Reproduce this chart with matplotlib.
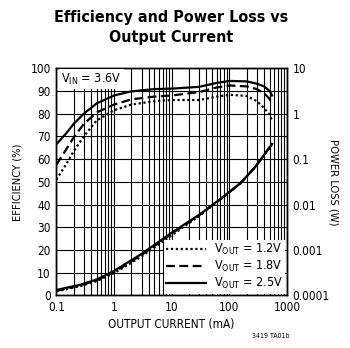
import matplotlib
matplotlib.use("Agg")
from matplotlib import pyplot as plt
from matplotlib.ticker import NullLocator
import numpy as np

plt.rcParams['font.family'] = ['DejaVu Sans']
plt.rcParams['font.stretch'] = 'condensed'
plt.rcParams['mathtext.default'] = 'regular'

# Efficiency vs output current (mA)
current = [0.1, 0.15, 0.2, 0.3, 0.5, 1, 2, 5, 10, 30, 60, 100, 200, 300, 400, 500, 550]
eff_12 = [51, 58, 63.5, 70, 77, 81.5, 84, 85.5, 86, 86, 87.5, 88.3, 87.8, 85.5, 82.5, 79.5, 77]
eff_18 = [57.5, 64.5, 69.5, 75.5, 80.5, 84, 86.3, 87.5, 88, 89.5, 91.5, 92.4, 92, 90.8, 89, 86.5, 84]
eff_25 = [66.5, 71.5, 75.5, 80, 84.5, 88, 89.8, 90.8, 91, 91.8, 93.5, 94.4, 94.2, 93.2, 92, 90, 88]

# Power loss (W)
loss_current = [0.1, 0.25, 0.5, 1, 3, 10, 30, 70, 155, 280, 400, 550]
loss_12 = [1.23e-4, 1.58e-4, 2.07e-4, 3.09e-4, 7.2e-4, 2.11e-3, 5.6e-3, 0.0129, 0.029, 0.066, 0.122, 0.212]
loss_18 = [1.26e-4, 1.64e-4, 2.16e-4, 3.27e-4, 7.76e-4, 2.29e-3, 5.8e-3, 0.0131, 0.0292, 0.0665, 0.123, 0.214]
loss_25 = [1.32e-4, 1.70e-4, 2.24e-4, 3.47e-4, 8.2e-4, 2.4e-3, 5.96e-3, 0.0133, 0.0295, 0.0668, 0.124, 0.216]

labels = ['V$_{OUT}$ = 1.2V', 'V$_{OUT}$ = 1.8V', 'V$_{OUT}$ = 2.5V']
styles = [(0, (1, 1.2)), (0, (4, 2)), '-']

fig = plt.figure(figsize=(3.5, 3.48), dpi=100)
ax = fig.add_axes([0.161, 0.151, 0.659, 0.653])
ax2 = ax.twinx()

effs = [eff_12, eff_18, eff_25]
losses = [loss_12, loss_18, loss_25]
handles = []
for e, l, ls in zip(effs, losses, styles):
    h, = ax.plot(current, e, color='black', lw=1.6, linestyle=ls)
    ax2.plot(loss_current, l, color='black', lw=1.6, linestyle=ls)
    handles.append(h)

ax.set_xscale('log')
ax.set_xlim(0.1, 1000)
ax.set_ylim(0, 100)
ax.set_yticks(range(0, 101, 10))
ax.set_xticks([0.1, 1, 10, 100, 1000])
ax.set_xticklabels(['0.1', '1', '10', '100', '1000'])
ax.grid(which='both', axis='x', color='black', lw=0.8)
ax.grid(which='major', axis='y', color='black', lw=0.8)
ax.tick_params(which='both', length=0, labelsize=8.5, pad=4)

ax2.set_yscale('log')
ax2.set_ylim(1e-4, 10)
ax2.set_yticks([1e-4, 1e-3, 1e-2, 0.1, 1, 10])
ax2.set_yticklabels(['0.0001', '0.001', '0.01', '0.1', '1', '10'])
ax2.yaxis.set_minor_locator(NullLocator())
ax2.tick_params(which='both', length=0, labelsize=8.5, pad=4)

for a in (ax, ax2):
    for s in a.spines.values():
        s.set_linewidth(1.0)

ax.set_xlabel('OUTPUT CURRENT (mA)', fontsize=8.5, labelpad=3)
ax.set_ylabel('EFFICIENCY (%)', fontsize=8, labelpad=6)
ax2.set_ylabel('POWER LOSS (W)', fontsize=8, rotation=270, labelpad=6)

ax2.text(0.02, 0.985, 'V$_{IN}$ = 3.6V', transform=ax.transAxes, fontsize=9,
         ha='left', va='top',
         bbox=dict(facecolor='white', edgecolor='none', pad=1.5))

leg = ax2.legend(handles, labels, loc='lower right', fontsize=9, frameon=True,
                 fancybox=False, edgecolor='none', framealpha=1,
                 handlelength=3.2, borderaxespad=0.15, borderpad=0.2,
                 labelspacing=0.15, handletextpad=0.6)

fig.text(0.49, 0.972, 'Efficiency and Power Loss vs\nOutput Current', ha='center',
         va='top', fontsize=11.5, fontweight='bold', linespacing=1.45)
fig.text(0.72, 0.03, '3419 TA01b', fontsize=5, ha='left')

plt.savefig('out.png', dpi=100)
